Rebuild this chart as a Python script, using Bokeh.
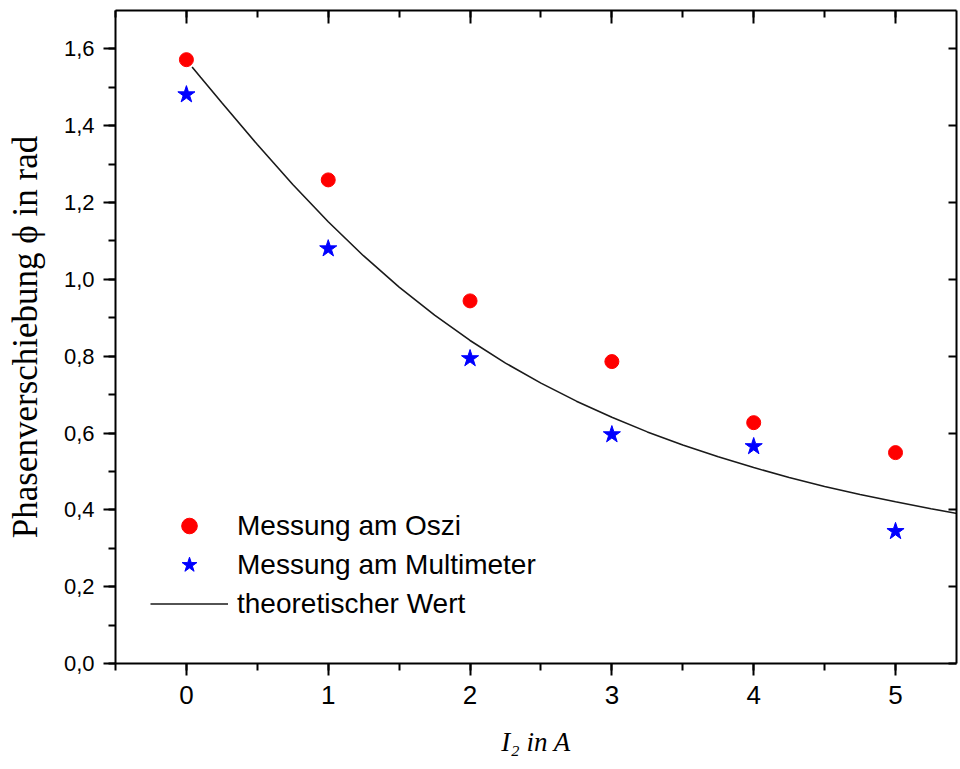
from bokeh.plotting import figure
from bokeh.models import (Range1d, LinearAxis, SingleIntervalTicker, CustomJSTickFormatter,
                          Legend, CustomLabelingPolicy)
from bokeh.embed import file_html
from bokeh.resources import INLINE

# ---- data ----
current = [0, 1, 2, 3, 4, 5]
phi_oszi = [1.572, 1.259, 0.944, 0.786, 0.627, 0.549]
phi_multi = [1.481, 1.080, 0.794, 0.596, 0.565, 0.344]

theory_x = [0.04, 0.1, 0.25, 0.5, 0.75, 1.0, 1.25, 1.5, 1.75, 2.0, 2.25, 2.5, 2.75,
            3.0, 3.25, 3.5, 3.75, 4.0, 4.25, 4.5, 4.75, 5.0, 5.25, 5.5]
theory_y = [1.553, 1.526, 1.460, 1.351, 1.247, 1.150, 1.061, 0.980, 0.907, 0.841,
            0.782, 0.730, 0.683, 0.641, 0.603, 0.569, 0.538, 0.510, 0.484, 0.461,
            0.440, 0.421, 0.403, 0.386]

legend_labels = ["Messung am Oszi", "Messung am Multimeter", "theoretischer Wert"]
x_title = "I\u2082 in A"
y_title = "Phasenverschiebung \u03d5 in rad"

SANS = "Liberation Sans"
SERIF = "Liberation Serif"

p = figure(width=960, height=769, output_backend="svg", toolbar_location=None,
           x_range=Range1d(-0.5, 5.43), y_range=Range1d(0, 1.7),
           x_axis_location=None, y_axis_location=None)
p.min_border_left = 115
p.min_border_top = 10
p.min_border_right = 0
p.min_border_bottom = 106
p.outline_line_color = None
p.xgrid.visible = False
p.ygrid.visible = False
p.background_fill_color = "white"
p.border_fill_color = "white"

xt = SingleIntervalTicker(interval=1, num_minor_ticks=2)
yt = SingleIntervalTicker(interval=0.2, num_minor_ticks=2)
fmt = CustomJSTickFormatter(code="return Number.isInteger(tick) ? tick.toFixed(0) : tick.toFixed(1).replace('.', ',');")
yfmt = CustomJSTickFormatter(code="return tick.toFixed(1).replace('.', ',');")
no_labels = CustomLabelingPolicy(code="for (const i of indices) { indices.unset(i) } return indices")
no_labels2 = CustomLabelingPolicy(code="for (const i of indices) { indices.unset(i) } return indices")

def style(ax):
    ax.axis_line_width = 2
    ax.axis_line_color = "black"
    ax.major_tick_line_width = 2
    ax.minor_tick_line_width = 2
    ax.major_tick_line_color = "black"
    ax.minor_tick_line_color = "black"
    ax.major_label_text_color = "black"
    ax.axis_label_text_color = "black"

bottom = LinearAxis(ticker=xt, formatter=fmt, axis_label=x_title)
style(bottom)
bottom.major_tick_out = 12
bottom.major_tick_in = 0
bottom.minor_tick_out = 7
bottom.minor_tick_in = 0
bottom.major_label_standoff = 10
bottom.major_label_text_font = SANS
bottom.major_label_text_font_size = "26px"
bottom.axis_label_text_font = SERIF
bottom.axis_label_text_font_style = "italic"
bottom.axis_label_text_font_size = "27px"
bottom.axis_label_standoff = 20
p.add_layout(bottom, "below")

left = LinearAxis(ticker=yt, formatter=yfmt, axis_label=y_title)
style(left)
left.major_tick_out = 12
left.major_tick_in = 0
left.minor_tick_out = 7
left.minor_tick_in = 0
left.major_label_standoff = 9
left.major_label_text_font = SANS
left.major_label_text_font_size = "22px"
left.axis_label_text_font = SERIF
left.axis_label_text_font_style = "normal"
left.axis_label_text_font_size = "35px"
left.axis_label_standoff = 16
p.add_layout(left, "left")

top = LinearAxis(ticker=SingleIntervalTicker(interval=1, num_minor_ticks=2),
                 major_label_policy=no_labels)
style(top)
top.major_tick_out = 0
top.major_tick_in = 13
top.minor_tick_out = 0
top.minor_tick_in = 7
top.major_label_text_font_size = "1px"
top.major_label_standoff = 0
p.add_layout(top, "above")

right = LinearAxis(ticker=SingleIntervalTicker(interval=0.2, num_minor_ticks=0),
                   major_label_policy=no_labels2)
style(right)
right.major_tick_out = 0
right.major_tick_in = 8
right.minor_tick_out = 0
right.minor_tick_in = 0
right.major_label_text_font_size = "1px"
right.major_label_standoff = 0
p.add_layout(right, "right")

r1 = p.scatter(current, phi_oszi, marker="circle", size=14, fill_color="#ff0000",
               line_color="#ff0000")
r2 = p.scatter(current, phi_multi, marker="star", size=18, fill_color="#0000ff",
               line_color="#0000ff")
r3 = p.line(theory_x, theory_y, line_color="#1a1a1a", line_width=1.6)

legend = Legend(items=[(legend_labels[0], [r1]), (legend_labels[1], [r2]), (legend_labels[2], [r3])],
                location=(35, 40))
legend.border_line_color = None
legend.background_fill_alpha = 0
legend.label_text_font = SANS
legend.label_text_font_size = "28px"
legend.label_text_color = "black"
legend.glyph_width = 78
legend.glyph_height = 39
legend.label_height = 39
legend.spacing = 0
legend.padding = 0
legend.margin = 0
legend.label_standoff = 9
p.add_layout(legend, "center")

open("out.html", "w").write(file_html(p, INLINE))
